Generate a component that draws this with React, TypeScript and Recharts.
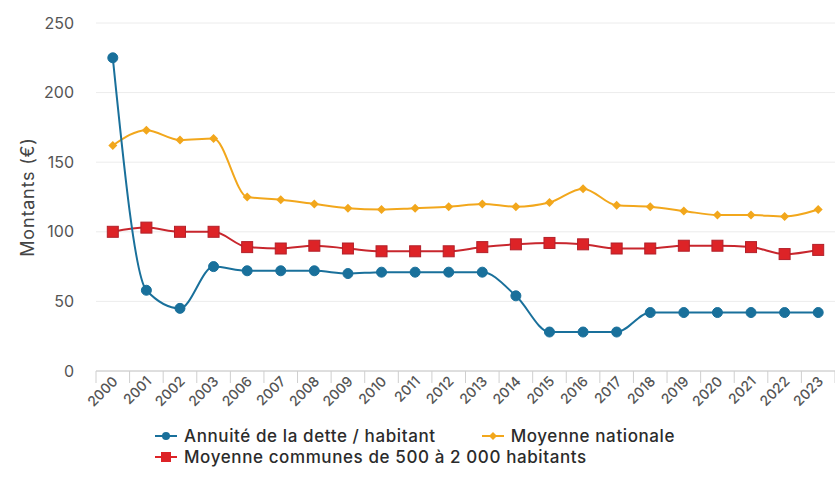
import React from 'react';
import { LineChart, Line, XAxis, YAxis, CartesianGrid, Label } from 'recharts';

const YEARS = ['2000', '2001', '2002', '2003', '2006', '2007', '2008', '2009', '2010', '2011', '2012',
  '2013', '2014', '2015', '2016', '2017', '2018', '2019', '2020', '2021', '2022', '2023'];
const ANNUITE = [225, 58, 45, 75, 72, 72, 72, 70, 71, 71, 71, 71, 54, 28, 28, 28, 42, 42, 42, 42, 42, 42];
const NATIONALE = [162, 173, 166, 167, 125, 123, 120, 117, 116, 117, 118, 120, 118, 121, 131, 119, 118, 115, 112, 112, 111, 116];
const COMMUNES = [100, 103, 100, 100, 89, 88, 90, 88, 86, 86, 86, 89, 91, 92, 91, 88, 88, 90, 90, 89, 84, 87];
const Y_TICKS = [0, 50, 100, 150, 200, 250];

const BLUE = '#19709b';
const ORANGE = '#f2a71c';
const RED = '#dd2327';

const data = YEARS.map((year, i) => ({
  year,
  annuite: ANNUITE[i],
  nationale: NATIONALE[i],
  communes: COMMUNES[i],
}));

const FONT = 'Inter, "Open Sans", sans-serif';
const HALF_BAND = 16.8;

const CircleDot = (props: any) => {
  const { cx, cy, index } = props;
  if (cx == null || cy == null) return null;
  return <circle key={`c-${index}`} cx={cx} cy={cy} r={5} fill={BLUE} stroke={BLUE} />;
};

const DiamondDot = (props: any) => {
  const { cx, cy, index } = props;
  if (cx == null || cy == null) return null;
  const s = 4.5;
  return (
    <polygon
      key={`d-${index}`}
      points={`${cx},${cy - s} ${cx + s},${cy} ${cx},${cy + s} ${cx - s},${cy}`}
      fill={ORANGE}
    />
  );
};

const SquareDot = (props: any) => {
  const { cx, cy, index } = props;
  if (cx == null || cy == null) return null;
  return <rect key={`s-${index}`} x={cx - 5.5} y={cy - 5.5} width={11} height={11} fill={RED} stroke="#b3202a" strokeWidth={1} />;
};

const XTick = (props: any) => {
  const { x, y, payload, index } = props;
  const last = index === YEARS.length - 1;
  return (
    <g transform={`translate(${x},${y})`}>
      <line x1={-HALF_BAND} x2={-HALF_BAND} y1={-8} y2={4} stroke="#cfcfcf" />
      {last && <line x1={HALF_BAND} x2={HALF_BAND} y1={-8} y2={4} stroke="#cfcfcf" />}
      <g transform="translate(-4,-1)">
        <text
          x={0}
          y={0}
          dy={10}
          dx={4}
          transform="rotate(-45)"
          textAnchor="end"
          fill="#555"
          fontSize={14}
          fontWeight={500}
          fontFamily={FONT}
        >
          {payload.value}
        </text>
      </g>
    </g>
  );
};

const LEGEND = [
  { label: 'Annuité de la dette / habitant', color: BLUE, shape: 'circle' },
  { label: 'Moyenne nationale', color: ORANGE, shape: 'diamond' },
  { label: 'Moyenne communes de 500 à 2 000 habitants', color: RED, shape: 'square' },
];

const LegendIcon = ({ color, shape }: { color: string; shape: string }) => (
  <svg width={22} height={12} style={{ marginRight: 7 }}>
    <line x1={0} x2={22} y1={6} y2={6} stroke={color} strokeWidth={2} />
    {shape === 'circle' && <circle cx={11} cy={6} r={4} fill={color} />}
    {shape === 'diamond' && <polygon points="11,2 15,6 11,10 7,6" fill={color} />}
    {shape === 'square' && <rect x={6} y={1} width={10} height={10} fill={color} />}
  </svg>
);

const LegendItem = ({ item }: { item: typeof LEGEND[number] }) => (
  <div style={{ display: 'flex', alignItems: 'center', marginRight: 46 }}>
    <LegendIcon color={item.color} shape={item.shape} />
    <span>{item.label}</span>
  </div>
);

export default function App() {
  return (
    <div style={{ position: 'relative', width: 835, height: 497, background: '#fff', fontFamily: FONT }}>
      <style>{'body{margin:0}'}</style>
      <LineChart width={835} height={497} data={data} margin={{ top: 23, right: 0, left: 0, bottom: 66 }}>
        <CartesianGrid vertical={false} stroke="#ececec" />
        <XAxis
          dataKey="year"
          height={60}
          interval={0}
          padding={{ left: HALF_BAND, right: HALF_BAND }}
          tickLine={false}
          axisLine={{ stroke: '#c8c8c8' }}
          tick={<XTick />}
        />
        <YAxis
          width={96}
          domain={[0, 250]}
          ticks={Y_TICKS}
          axisLine={false}
          tickLine={false}
          tickMargin={16}
          tick={{ fill: '#555', fontSize: 16, fontFamily: FONT }}
        >
          <Label
            value="Montants (€)"
            angle={-90}
            position="insideLeft"
            offset={28}
            style={{ textAnchor: 'middle', fill: '#444', fontSize: 18, letterSpacing: 0.8, fontFamily: FONT }}
          />
        </YAxis>
        <Line
          type="monotone"
          dataKey="nationale"
          stroke={ORANGE}
          strokeWidth={2}
          dot={DiamondDot}
          isAnimationActive={false}
        />
        <Line
          type="monotone"
          dataKey="communes"
          stroke="#c8262d"
          strokeWidth={2}
          dot={SquareDot}
          isAnimationActive={false}
        />
        <Line
          type="monotone"
          dataKey="annuite"
          stroke={BLUE}
          strokeWidth={2}
          dot={CircleDot}
          isAnimationActive={false}
        />
      </LineChart>
      <div
        style={{
          position: 'absolute',
          left: 155,
          top: 426,
          width: 670,
          display: 'flex',
          flexWrap: 'wrap',
          rowGap: 1,
          fontSize: 17,
          letterSpacing: 0.6,
          fontWeight: 500,
          color: '#2b2b2b',
          lineHeight: '20px',
        }}
      >
        {LEGEND.map((item) => (
          <LegendItem key={item.label} item={item} />
        ))}
      </div>
    </div>
  );
}
